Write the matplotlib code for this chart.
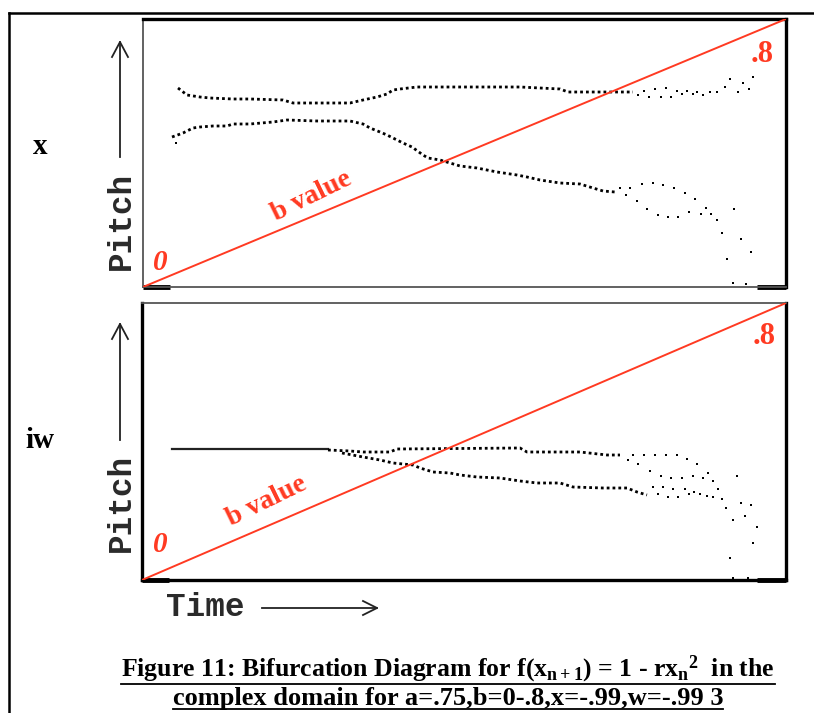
import matplotlib
matplotlib.use('Agg')
import matplotlib.pyplot as plt
from matplotlib.lines import Line2D

W, H = 814, 713
plt.rcParams['mathtext.fontset'] = 'custom'
plt.rcParams['mathtext.rm'] = 'Liberation Serif:bold'
plt.rcParams['mathtext.it'] = 'Liberation Serif:bold'
plt.rcParams['mathtext.bf'] = 'Liberation Serif:bold'

# ---------------- data (time units, pitch units) ----------------
# b value range shown by the red line
b_range = [0.0, 0.8]

# top panel: x
x_time_max, x_pitch_max = 643, 268
x_upper_t = [35, 44, 57, 67, 90, 107, 140, 150, 174, 207, 220, 234, 244, 250, 257, 274, 377, 417, 425, 490]
x_upper_p = [199, 192, 190, 189, 188, 188, 187, 184, 184, 184, 187, 190, 193, 197, 198, 200, 200, 198, 195, 195]
x_upper_sc_t = [495, 501, 506, 512, 518, 523, 528, 534, 539, 544, 550, 554, 560, 567, 574, 582, 587, 595, 600, 606, 610]
x_upper_sc_p = [192, 196, 190, 198, 190, 199, 190, 196, 193, 196, 193, 195, 192, 195, 195, 200, 208, 195, 204, 198, 210]
x_lower_t = [29, 40, 50, 57, 70, 84, 90, 107, 130, 144, 174, 207, 220, 227, 237, 244, 252, 260, 269, 280, 285, 297,
             307, 317, 334, 354, 374, 384, 397, 417, 437, 450, 460, 472]
x_lower_p = [150, 154, 159, 160, 161, 161, 163, 163, 165, 167, 166, 166, 163, 159, 155, 152, 148, 144, 140, 132, 129, 127,
             124, 121, 119, 115, 112, 110, 107, 104, 103, 99, 96, 95]
x_split_t = [33, 477, 487, 499, 510, 520, 531, 542, 552, 563, 568, 574, 579, 584,
             483, 494, 504, 515, 525, 535, 546, 558, 591, 598, 608, 590, 603]
x_split_p = [144, 99, 99, 103, 104, 102, 99, 94, 88, 79, 73, 67, 54, 28,
             92, 86, 78, 72, 70, 70, 75, 73, 78, 48, 35, 4, 3]

# bottom panel: iw
iw_time_max, iw_pitch_max = 644, 277
iw_solid_t = [30, 186]
iw_solid_p = [131, 131]
iw_upper_t = [186, 208, 221, 248, 255, 378, 385, 438, 465, 478]
iw_upper_p = [130, 129, 128, 128, 131, 132, 128, 128, 125, 125]
iw_lower_t = [200, 221, 238, 251, 271, 278, 291, 308, 318, 335, 358, 378, 395, 418, 431, 461, 485, 495, 505]
iw_lower_p = [127, 123, 120, 117, 115, 112, 108, 107, 105, 103, 102, 99, 97, 97, 93, 92, 92, 88, 85]
iw_sc_t = [486, 491, 496, 502, 508, 513, 519, 524, 529, 535, 540, 545, 551, 555, 561, 566, 571, 576, 580, 584,
           588, 591, 595, 599, 603, 609, 611, 615,
           511, 516, 521, 526, 531, 536, 543, 547, 552, 558, 565, 571, 591, 606]
iw_sc_p = [120, 125, 116, 125, 109, 125, 104, 125, 102, 125, 102, 121, 104, 116, 102, 107, 99, 91, 81, 72,
           22, 60, 104, 77, 64, 75, 37, 53,
           93, 86, 93, 83, 91, 83, 91, 86, 88, 86, 84, 83, 2, 2]

# floor segments (pitch 0) at start and end of each run
floor_left = [0, 27]
floor_right_frac = [0.955, 1.0]

RED = '#ff3a22'
SERIF = 'Liberation Serif'
MONO = 'Liberation Mono'


def box(x0, y0, x1, y1):
    return [x0 / W, 1 - y1 / H, (x1 - x0) / W, (y1 - y0) / H]


def fx(px):
    return px / W


def fy(py):
    return 1 - py / H


fig = plt.figure(figsize=(W / 100, H / 100), dpi=100)
fig.patch.set_facecolor('white')


def setup(ax, tmax, pmax, thick):
    ax.set_xlim(0, tmax)
    ax.set_ylim(0, pmax)
    ax.set_xticks([])
    ax.set_yticks([])
    for side, sp in ax.spines.items():
        if side in thick:
            sp.set_linewidth(2.4)
            sp.set_color('black')
        else:
            sp.set_linewidth(1.3)
            sp.set_color('#555555')
    # b value line on its own scale
    axb = ax.twinx()
    axb.set_ylim(b_range)
    axb.set_yticks([])
    for sp in axb.spines.values():
        sp.set_visible(False)
    axb.plot([0, tmax], b_range, color=RED, lw=1.4, zorder=5)
    axb.set_xlim(0, tmax)
    # floor segments
    ax.plot(floor_left, [0, 0], color='black', lw=3.5, solid_capstyle='butt', clip_on=False)
    ax.plot([floor_right_frac[0] * tmax, floor_right_frac[1] * tmax], [0, 0], color='black', lw=3.5,
            solid_capstyle='butt', clip_on=False)
    return axb


DOT = (0, (1.0, 1.1))
LW = 2.0
MS = 2.1

ax1 = fig.add_axes(box(143, 19, 786, 287))
setup(ax1, x_time_max, x_pitch_max, thick=('top', 'right'))
ax1.plot(x_upper_t, x_upper_p, color='black', lw=LW, ls=DOT)
ax1.plot(x_lower_t, x_lower_p, color='black', lw=LW, ls=DOT)
ax1.plot(x_upper_sc_t, x_upper_sc_p, 's', color='black', ms=MS, mew=0)
ax1.plot(x_split_t, x_split_p, 's', color='black', ms=MS, mew=0)

ax2 = fig.add_axes(box(142, 303, 786, 580))
setup(ax2, iw_time_max, iw_pitch_max, thick=('left', 'bottom', 'right'))
ax2.plot(iw_solid_t, iw_solid_p, color='#222222', lw=1.6)
ax2.plot(iw_upper_t, iw_upper_p, color='black', lw=LW, ls=DOT)
ax2.plot(iw_lower_t, iw_lower_p, color='black', lw=LW, ls=DOT)
ax2.plot(iw_sc_t, iw_sc_p, 's', color='black', ms=MS, mew=0)

# red labels
for (zx, zy), (ex, ey), (bx, by) in [((160, 263), (762, 55), (312, 196)),
                                      ((160, 545), (764, 337), (267, 501))]:
    fig.text(fx(zx), fy(zy), '0', color=RED, family=SERIF, weight='bold', style='italic',
             fontsize=21, ha='center', va='center')
    fig.text(fx(ex), fy(ey), '.8', color=RED, family=SERIF, weight='bold',
             fontsize=22, ha='center', va='center')
    fig.text(fx(bx), fy(by), 'b value', color=RED, family=SERIF, weight='bold',
             fontsize=20, ha='center', va='center', rotation=26, rotation_mode='anchor')

# row labels
fig.text(fx(40), fy(146), 'x', family=SERIF, weight='bold', fontsize=21, ha='center', va='center')
fig.text(fx(40), fy(440), 'iw', family=SERIF, weight='bold', fontsize=21, ha='center', va='center')


def fline(xs, ys, lw=1.3, color='#222222'):
    fig.add_artist(Line2D([fx(v) for v in xs], [fy(v) for v in ys], lw=lw, color=color,
                          transform=fig.transFigure))


# Pitch labels and arrows
for cy, ltop, lbot in [(221, 42, 157), (503, 324, 440)]:
    fig.text(fx(121), fy(cy), 'Pitch', family=MONO, weight='bold', fontsize=23.5, rotation=90,
             ha='center', va='center', color='#2a2a2a')
    fline([120, 120], [ltop, lbot])
    fline([112, 120, 128], [ltop + 15, ltop, ltop + 15])

# Time label and arrow
fig.text(fx(166), fy(607), 'Time', family=MONO, weight='bold', fontsize=23.5, ha='left', va='center',
         color='#2a2a2a')
fline([262, 377], [608, 608])
fline([363, 377, 363], [601, 608, 615])

# outer border
fline([9, 814], [13, 13], lw=1.8, color='black')
fline([9, 9], [13, 713], lw=1.8, color='black')

# caption
cap1 = (r'Figure 11: Bifurcation Diagram for f(x$_{\mathrm{n+1}}$) = 1 - rx$_{\mathrm{n}}$'
        r'$^{\mathrm{2}}$  in the')
cap2 = 'complex domain for a=.75,b=0-.8,x=-.99,w=-.99 3'
t1 = fig.text(fx(448), fy(676), cap1, family=SERIF, weight='bold', fontsize=18.5, ha='center', va='baseline')
t2 = fig.text(fx(448), fy(705), cap2, family=SERIF, weight='bold', fontsize=19, ha='center', va='baseline')

fig.canvas.draw()
r = fig.canvas.get_renderer()
for t, uy in [(t1, 684), (t2, 709)]:
    bb = t.get_window_extent(r)
    fig.add_artist(Line2D([bb.x0 / W, bb.x1 / W], [fy(uy), fy(uy)], lw=1.3, color='black',
                          transform=fig.transFigure))

fig.savefig('out.png', dpi=100, facecolor='white')
